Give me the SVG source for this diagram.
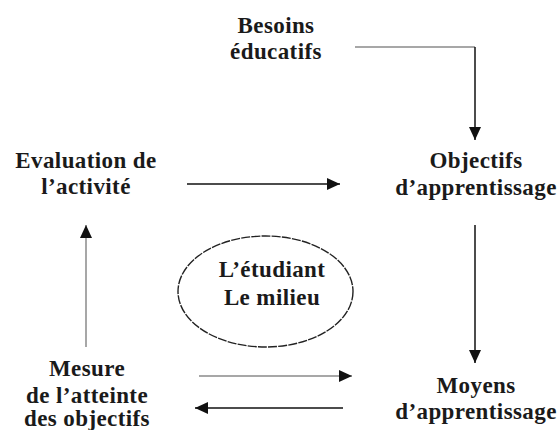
<svg xmlns="http://www.w3.org/2000/svg" width="558" height="430" viewBox="0 0 558 430">
  <defs>
    <marker id="ah" markerUnits="userSpaceOnUse" markerWidth="14" markerHeight="12" refX="13" refY="6" orient="auto">
      <path d="M0,0 L13,6 L0,12 Z" fill="#111"/>
    </marker>
    <style>
      .t { font-family: "Liberation Serif", "Times New Roman", serif; font-weight: bold; font-size: 23px; letter-spacing: 0.4px; fill: #1a1a1a; text-anchor: middle; }
      .ln { fill: none; stroke: #111; stroke-width: 1.5; }
      .lg { fill: none; stroke: #8a8a8a; stroke-width: 1.5; }
    </style>
  </defs>
  <rect width="558" height="430" fill="#fff"/>

  <g id="connectors">
    <polyline class="lg" points="355,47 475,47"/>
    <line class="ln" x1="475" y1="47" x2="475" y2="140" marker-end="url(#ah)"/>
    <line class="ln" x1="187" y1="184" x2="340" y2="184" marker-end="url(#ah)"/>
    <line class="ln" x1="475" y1="225" x2="475" y2="363" marker-end="url(#ah)"/>
    <line class="lg" x1="86" y1="347" x2="86" y2="225" marker-end="url(#ah)"/>
    <line class="lg" x1="199" y1="376" x2="352" y2="376" stroke-width="1.2" marker-end="url(#ah)"/>
    <line class="ln" x1="343" y1="408" x2="195" y2="408" stroke-width="2" marker-end="url(#ah)"/>
  </g>

  <g id="besoins">
    <text class="t" x="276" y="33">Besoins</text>
    <text class="t" x="276" y="59">éducatifs</text>
  </g>

  <g id="evaluation">
    <text class="t" x="86" y="168">Evaluation de</text>
    <text class="t" x="86" y="194">l’activité</text>
  </g>

  <g id="objectifs">
    <text class="t" x="476" y="168">Objectifs</text>
    <text class="t" x="476" y="195">d’apprentissage</text>
  </g>

  <g id="etudiant">
    <ellipse cx="265.5" cy="291.5" rx="87.5" ry="55.5" fill="none" stroke="#222" stroke-width="1.4" stroke-dasharray="9 1.2"/>
    <text class="t" x="272" y="277">L’étudiant</text>
    <text class="t" x="272" y="305">Le milieu</text>
  </g>

  <g id="mesure">
    <text class="t" x="87" y="376">Mesure</text>
    <text class="t" x="87" y="403">de l’atteinte</text>
    <text class="t" x="87" y="426">des objectifs</text>
  </g>

  <g id="moyens">
    <text class="t" x="476" y="393">Moyens</text>
    <text class="t" x="476" y="419">d’apprentissage</text>
  </g>
</svg>
